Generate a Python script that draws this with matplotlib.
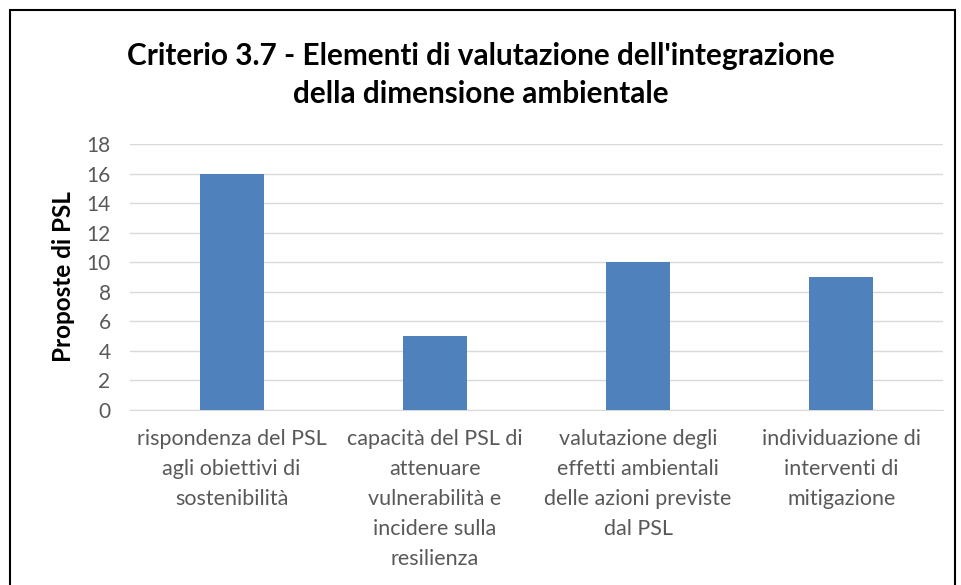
import matplotlib.pyplot as plt
from matplotlib.patches import Rectangle

plt.rcParams['font.family'] = ['Lato', 'DejaVu Sans']

# dati
categorie = [
    'rispondenza del PSL\nagli obiettivi di\nsostenibilità',
    'capacità del PSL di\nattenuare\nvulnerabilità e\nincidere sulla\nresilienza',
    'valutazione degli\neffetti ambientali\ndelle azioni previste\ndal PSL',
    'individuazione di\ninterventi di\nmitigazione',
]
valori = [16, 5, 10, 9]
yticks = list(range(0, 20, 2))

fig = plt.figure(figsize=(9.61, 5.85), dpi=100)
ax = fig.add_axes([130 / 961, 1 - 410 / 585, (943 - 130) / 961, (410 - 144) / 585])

x = range(len(valori))
ax.bar(x, valori, width=0.315, color='#4F81BD', zorder=3)
ax.set_xlim(-0.5, len(valori) - 0.5)
ax.set_ylim(0, 18)
ax.set_yticks(yticks)
ax.set_xticks(list(x))
ax.set_xticklabels(categorie, fontsize=15.5, color='#595959', linespacing=1.62, va='top')
ax.tick_params(axis='y', labelsize=15, labelcolor='#595959', length=0, pad=14)
ax.tick_params(axis='x', length=0, pad=14)
ax.yaxis.grid(True, color='#D9D9D9', linewidth=1, zorder=0)
for s in ['top', 'right', 'left']:
    ax.spines[s].set_visible(False)
ax.spines['bottom'].set_color('#D9D9D9')

ax.set_ylabel('Proposte di PSL', fontsize=17.5, fontweight='bold', color='black', labelpad=8)

fig.text(0.5, 1 - 75 / 585, "Criterio 3.7 - Elementi di valutazione dell'integrazione\ndella dimensione ambientale",
         ha='center', va='center', fontsize=21.4, fontweight='bold', linespacing=1.45)

# cornice del grafico
fig.patches.append(Rectangle((10 / 961, -0.1), (955 - 10) / 961, 1.1 - 10 / 585,
                             transform=fig.transFigure, fill=False, edgecolor='black', linewidth=1.5))

fig.savefig('out.png', dpi=100)
